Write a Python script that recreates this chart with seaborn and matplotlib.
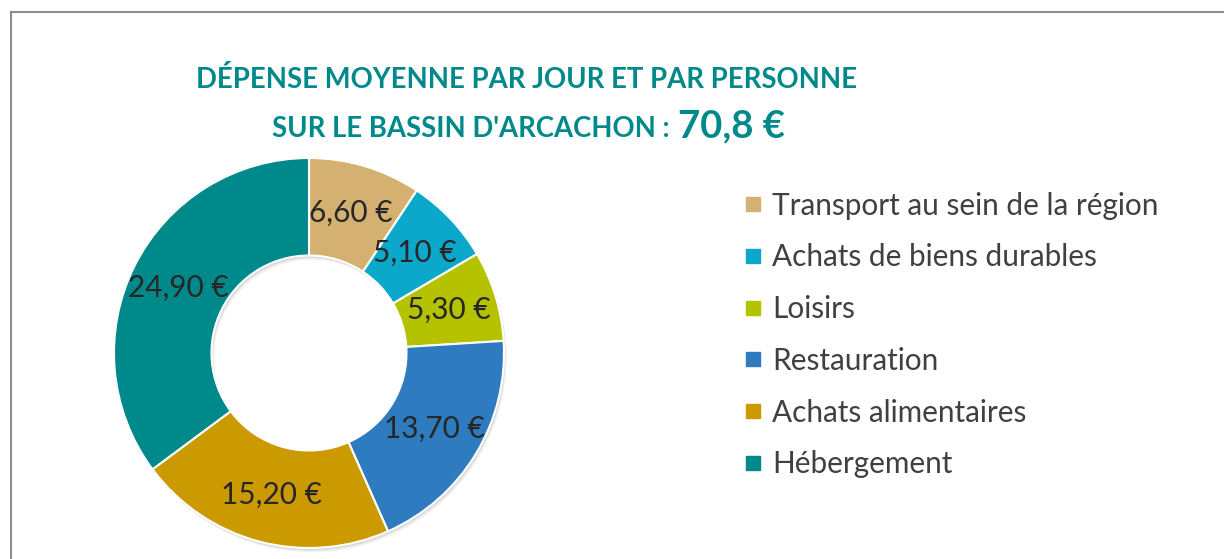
# Dépense moyenne par jour et par personne - donut chart

import matplotlib.pyplot as plt
from matplotlib.lines import Line2D
from matplotlib.patches import Rectangle
import numpy as np
import seaborn as sns

categories = ['Transport au sein de la région', 'Achats de biens durables', 'Loisirs',
              'Restauration', 'Achats alimentaires', 'Hébergement']
values = [6.60, 5.10, 5.30, 13.70, 15.20, 24.90]
colors = ['#D5B171', '#0BA8CB', '#B4C200', '#2E7CBF', '#CA9A00', '#00898A']
total_label = '70,8 €'

sns.set_theme(style='white')
plt.rcParams['font.family'] = ['Lato', 'DejaVu Sans']

fig = plt.figure(figsize=(12.24, 5.59), dpi=100)

# chart border (cut off at right and bottom like the original screenshot)
fig.patches.append(Rectangle((11 / 1224, -0.1), 1.2, 1 - 12 / 559 + 0.1,
                             transform=fig.transFigure, fill=False,
                             edgecolor='#8C8C8C', linewidth=1.5))

ax = fig.add_axes([114 / 1224, 11 / 559, 390 / 1224, 390 / 559])

# soft shadow behind the ring
for off, al in [(0.022, 0.05), (0.014, 0.07), (0.007, 0.08)]:
    ax.pie([1], colors=['#000000'], radius=1, center=(off * 0.6, -off),
           wedgeprops=dict(width=0.5, linewidth=0, alpha=al))

wedges, _ = ax.pie(values, colors=colors, startangle=90, counterclock=False,
                   radius=1, wedgeprops=dict(width=0.5, edgecolor='white', linewidth=1.5))

# data labels at mid-ring
angles = 90 - np.cumsum([0] + values[:-1]) / sum(values) * 360 - np.array(values) / sum(values) * 180
for a, v in zip(angles, values):
    r = 0.75
    ax.text(r * np.cos(np.radians(a)), r * np.sin(np.radians(a)),
            '{:.2f} €'.format(v).replace('.', ','), ha='center', va='center',
            fontsize=21.4, color='#262626')
ax.set_xlim(-1, 1)
ax.set_ylim(-1, 1)
ax.axis('off')

# title
teal = '#00898A'
fig.text(527 / 1224, 1 - 88 / 559, 'DÉPENSE MOYENNE PAR JOUR ET PAR PERSONNE',
         ha='center', va='baseline', fontsize=19.8, fontweight='bold', color=teal)
fig.text(272 / 1224, 1 - 137 / 559, "SUR LE BASSIN D'ARCACHON :",
         ha='left', va='baseline', fontsize=19.8, fontweight='bold', color=teal)
fig.text(678 / 1224, 1 - 137 / 559, total_label,
         ha='left', va='baseline', fontsize=27.5, fontweight='bold', color=teal)

# legend
handles = [Line2D([], [], marker='s', linestyle='none', markersize=10.5,
                  markerfacecolor=c, markeredgecolor=c) for c in colors]
fig.legend(handles, categories, loc='center left', bbox_to_anchor=(746 / 1224, 1 - 335 / 559),
           frameon=False, fontsize=21.4, labelcolor='#404040', handlelength=0.5,
           handletextpad=0.37, labelspacing=0.8, borderpad=0, borderaxespad=0)

plt.savefig('out.png', dpi=100)
